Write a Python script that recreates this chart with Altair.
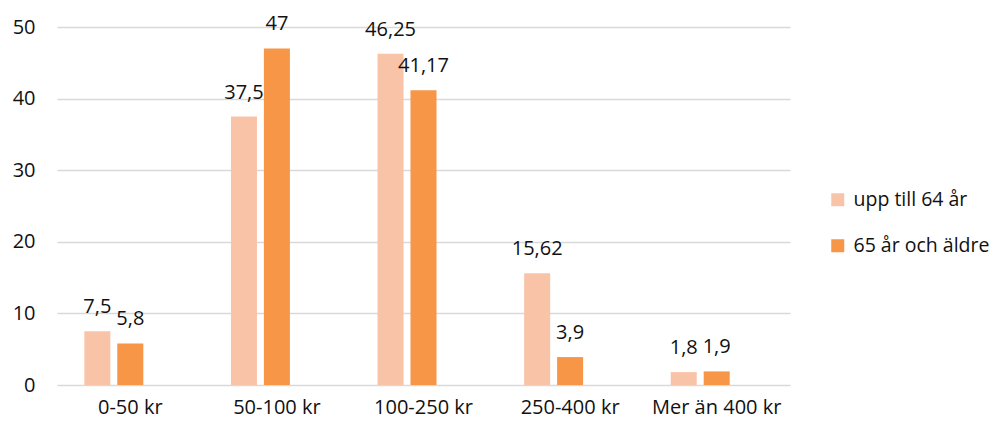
import altair as alt
import pandas as pd

categories = ["0-50 kr", "50-100 kr", "100-250 kr", "250-400 kr", "Mer än 400 kr"]
series = ["upp till 64 år", "65 år och äldre"]
young = [7.5, 37.5, 46.25, 15.62, 1.8]
old = [5.8, 47, 41.17, 3.9, 1.9]
colors = ["#F9C3A8", "#F79646"]

rows = []
for c, a, b in zip(categories, young, old):
    rows.append({"cat": c, "serie": series[0], "value": a})
    rows.append({"cat": c, "serie": series[1], "value": b})
df = pd.DataFrame(rows)

FONT = "Open Sans"
FS = 20
TXT = "#111111"

x = alt.X("cat:N", sort=categories, title=None,
          scale=alt.Scale(paddingInner=0, paddingOuter=0),
          axis=alt.Axis(labelAngle=0, ticks=False, domain=False, labelPadding=12,
                        labelFontSize=FS, labelFont=FONT, labelColor=TXT))
xo = alt.XOffset("serie:N", scale=alt.Scale(domain=series + ["_"], paddingInner=0.21, paddingOuter=0.83))
y = alt.Y("value:Q", title=None, scale=alt.Scale(domain=[0, 50]),
          axis=alt.Axis(values=[0, 10, 20, 30, 40, 50], ticks=False, domain=False,
                        labelPadding=22, labelFontSize=FS, labelFont=FONT, labelColor=TXT,
                        gridColor="#D9D9D9", gridWidth=1.5))

base = alt.Chart(df)
bars = base.mark_bar().encode(
    x=x, xOffset=xo, y=y,
    color=alt.Color("serie:N", scale=alt.Scale(domain=series, range=colors),
                    legend=alt.Legend(title=None, orient="none", legendX=771, legendY=163,
                                      symbolType="square", symbolSize=169, symbolStrokeWidth=0,
                                      labelFontSize=19.5, labelFont=FONT, labelColor=TXT,
                                      labelOffset=6, rowPadding=25)),
)
labels = base.mark_text(baseline="alphabetic", dy=-18, fontSize=FS, font=FONT, color=TXT).transform_calculate(
    lab="replace(toString(datum.value), '.', ',')"
).encode(x=x, xOffset=xo, y=y, text="lab:N")

chart = (bars + labels).properties(
    width=733, height=358,
    autosize=alt.AutoSizeParams(type="none"),
    padding={"left": 49, "top": 19, "right": 200, "bottom": 34},
).configure_view(stroke=None)

chart.save("out.html", embed_options={"renderer": "svg", "actions": False})
